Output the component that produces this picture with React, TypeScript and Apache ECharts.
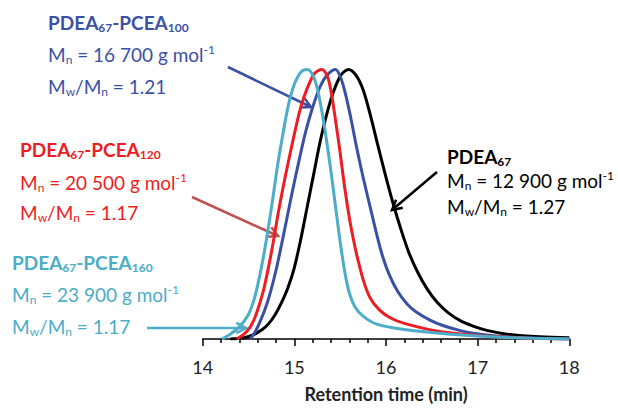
import React, { useEffect, useRef } from "react";
import * as echarts from "echarts";

// ---- data (retention time in min, normalised RI signal) ----
const xTicks = [14, 15, 16, 17, 18];

const pdea67: [number, number][] = [
  [14.3, 0], [14.45, 0.005], [14.55, 0.015], [14.65, 0.035], [14.72, 0.057],
  [14.79, 0.09], [14.86, 0.135], [14.93, 0.19], [15.0, 0.265], [15.07, 0.37],
  [15.14, 0.49], [15.21, 0.61], [15.28, 0.73], [15.35, 0.83], [15.43, 0.92],
  [15.51, 0.98], [15.59, 1.0], [15.67, 0.98], [15.75, 0.925], [15.83, 0.83],
  [15.91, 0.72], [16.0, 0.6], [16.08, 0.5], [16.16, 0.41], [16.25, 0.32],
  [16.35, 0.245], [16.45, 0.185], [16.56, 0.135], [16.68, 0.097], [16.81, 0.068],
  [16.95, 0.048], [17.1, 0.032], [17.32, 0.018], [17.68, 0.008], [18.0, 0.005],
];

const pcea100: [number, number][] = [
  [14.52, 0], [14.57, 0.025], [14.62, 0.06], [14.68, 0.11], [14.74, 0.175],
  [14.8, 0.255], [14.86, 0.35], [14.92, 0.45], [14.98, 0.55], [15.05, 0.66],
  [15.12, 0.765], [15.2, 0.86], [15.28, 0.935], [15.36, 0.98], [15.45, 1.0],
  [15.5, 0.975], [15.55, 0.92], [15.61, 0.83], [15.68, 0.71], [15.75, 0.6],
  [15.82, 0.5], [15.89, 0.4], [15.96, 0.31], [16.04, 0.235], [16.13, 0.175],
  [16.23, 0.13], [16.33, 0.1], [16.48, 0.07], [16.62, 0.05], [16.8, 0.032],
  [16.95, 0.021], [17.2, 0.011], [17.5, 0.005], [18.0, 0],
];

const pcea120: [number, number][] = [
  [14.37, 0], [14.45, 0.018], [14.52, 0.045], [14.57, 0.08], [14.62, 0.13],
  [14.67, 0.19], [14.72, 0.27], [14.77, 0.36], [14.82, 0.46], [14.87, 0.55],
  [14.93, 0.65], [15.0, 0.76], [15.07, 0.86], [15.14, 0.93], [15.22, 0.985],
  [15.3, 1.0], [15.36, 0.975], [15.4, 0.92], [15.45, 0.81], [15.5, 0.69],
  [15.55, 0.56], [15.6, 0.45], [15.65, 0.36], [15.7, 0.285], [15.76, 0.21],
  [15.83, 0.15], [15.93, 0.107], [16.05, 0.078], [16.2, 0.058], [16.55, 0.03],
  [17.0, 0.013], [17.5, 0.004], [18.0, 0],
];

const pcea160: [number, number][] = [
  [14.21, 0], [14.3, 0.018], [14.4, 0.045], [14.49, 0.085], [14.55, 0.135],
  [14.6, 0.2], [14.66, 0.3], [14.71, 0.4], [14.76, 0.51], [14.82, 0.65],
  [14.88, 0.77], [14.94, 0.875], [15.0, 0.945], [15.07, 0.99], [15.14, 1.0],
  [15.2, 0.98], [15.25, 0.93], [15.3, 0.845], [15.35, 0.74], [15.4, 0.62],
  [15.45, 0.49], [15.5, 0.36], [15.55, 0.25], [15.6, 0.17], [15.66, 0.12],
  [15.75, 0.085], [15.9, 0.055], [16.2, 0.035], [16.7, 0.018], [17.3, 0.006],
  [18.0, 0],
];

const FONT = "Lato, 'Open Sans', sans-serif";
const BLACK = "#000000";
const BLUE = "#3A50A4";
const RED = "#EE1D23";
const CYAN = "#4BADC7";
const RED_ARROW = "#C0504D";

const F = 19; // main text size
const S = 12; // sub / sup size
const LH = 22;

function richFor(color: string) {
  return {
    b: { fontFamily: FONT, fontSize: F, fontWeight: "bold", fill: color, lineHeight: LH },
    bs: { fontFamily: FONT, fontSize: S, fontWeight: "bold", fill: color, lineHeight: 8, verticalAlign: "bottom" },
    n: { fontFamily: FONT, fontSize: F, fill: color, lineHeight: LH },
    s: { fontFamily: FONT, fontSize: S, fill: color, lineHeight: 8, verticalAlign: "bottom" },
    p: { fontFamily: FONT, fontSize: S, fill: color, lineHeight: 14, verticalAlign: "top" },
  };
}

function textLine(str: string, x: number, y: number, color: string) {
  return {
    type: "text",
    x,
    y,
    silent: true,
    style: {
      text: str,
      fill: color,
      font: `${F}px ${FONT}`,
      verticalAlign: "middle",
      align: "left",
      rich: richFor(color),
    },
  };
}

function block(dp: string, mn: string, pdi: string, x: number, ys: number[], color: string) {
  return [
    textLine(`{b|PDEA}{bs|67}${dp ? `{b|-PCEA}{bs|${dp}}` : ""}`, x, ys[0], color),
    textLine(`{n|M}{s|n}{n| = ${mn} g mol}{p|-1}`, x, ys[1], color),
    textLine(`{n|M}{s|w}{n|/M}{s|n}{n| = ${pdi}}`, x, ys[2], color),
  ];
}

function arrow(x1: number, y1: number, x2: number, y2: number, color: string) {
  const ang = Math.atan2(y2 - y1, x2 - x1);
  const L = 11;
  const a = (28 * Math.PI) / 180;
  const p1 = [x2 - L * Math.cos(ang - a), y2 - L * Math.sin(ang - a)];
  const p2 = [x2 - L * Math.cos(ang + a), y2 - L * Math.sin(ang + a)];
  return [
    { type: "line", silent: true, shape: { x1, y1, x2, y2 }, style: { stroke: color, lineWidth: 2.5 } },
    { type: "polyline", silent: true, shape: { points: [p1, [x2, y2], p2] }, style: { stroke: color, lineWidth: 2.5, fill: "none" } },
  ];
}

export default function App() {
  const ref = useRef<HTMLDivElement>(null);
  useEffect(() => {
    const chart = echarts.init(ref.current!, null, { renderer: "svg" });
    const line = (name: string, data: [number, number][], color: string) => ({
      name,
      type: "line",
      data,
      showSymbol: false,
      symbol: "none",
      smooth: 0.3,
      lineStyle: { color, width: 3 },
      itemStyle: { color },
    });
    chart.setOption({
      animation: false,
      backgroundColor: "#ffffff",
      grid: { left: 202.7, right: 48.7, top: 56, bottom: 58, containLabel: false },
      xAxis: {
        type: "value",
        min: xTicks[0],
        max: xTicks[xTicks.length - 1],
        interval: 1,
        axisLine: { lineStyle: { color: "#000", width: 1.5 } },
        axisTick: { inside: false, length: 7, lineStyle: { color: "#000", width: 1.5 } },
        minorTick: { show: true, splitNumber: 5, length: 4, lineStyle: { color: "#000", width: 1.5 } },
        splitLine: { show: false },
        minorSplitLine: { show: false },
        axisLabel: { fontSize: 18, color: "#222", margin: 19, fontFamily: FONT },
        name: "Retention time (min)",
        nameLocation: "middle",
        nameGap: 46,
        nameTextStyle: { fontWeight: "bold", fontSize: 18, color: "#222", fontFamily: FONT },
      },
      yAxis: { type: "value", min: 0, max: 1.05, show: false },
      series: [
        line("PDEA67", pdea67, BLACK),
        line("PDEA67-PCEA100", pcea100, BLUE),
        line("PDEA67-PCEA120", pcea120, RED),
        line("PDEA67-PCEA160", pcea160, CYAN),
      ],
      graphic: [
        ...block("100", "16 700", "1.21", 48, [22, 54, 86], BLUE),
        ...block("120", "20 500", "1.17", 20, [149, 182, 212], RED),
        ...block("160", "23 900", "1.17", 12, [262, 294, 326], CYAN),
        ...block("", "12 900", "1.27", 447, [156, 180, 206], BLACK),
        ...arrow(228, 67, 311, 107, BLUE),
        ...arrow(192, 197, 278, 236, RED_ARROW),
        ...arrow(147, 328, 246, 328, CYAN),
        ...arrow(437, 172, 392, 210, BLACK),
      ],
    });
    return () => chart.dispose();
  }, []);
  return <div ref={ref} style={{ position: "fixed", left: 0, top: 0, width: 618, height: 408 }} />;
}
